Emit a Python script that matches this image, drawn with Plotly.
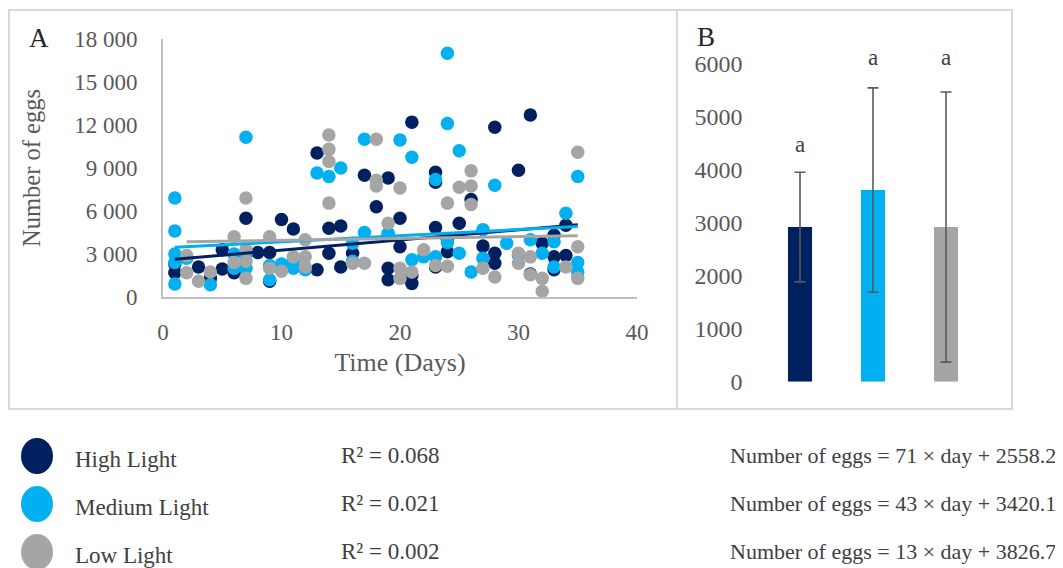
import plotly.graph_objects as go

# ---------------- data ----------------
series_names = ["High Light", "Medium Light", "Low Light"]
series_colors = ["#002060", "#00B0F0", "#A5A5A5"]

high_days = [1, 1, 3, 4, 5, 5, 6, 7, 8, 9, 9, 10, 11, 13, 13, 14, 14, 15, 15, 16, 17, 18, 19, 19, 19, 19,
             20, 20, 21, 21, 21, 23, 23, 23, 23, 24, 24, 25, 26, 27, 28, 28, 28, 30, 31, 31, 32, 33, 33, 33, 34, 34]
high_eggs = [1700, 2300, 2100, 1300, 1950, 3300, 1700, 5500, 3100, 3100, 1100, 5400, 4750, 1900, 10050, 4800,
             3050, 4950, 2100, 3050, 8500, 6300, 8300, 4300, 2000, 1200, 5500, 3500, 12200, 950, 1500, 8000,
             8700, 4850, 2100, 4000, 3150, 5150, 6800, 3550, 11850, 3050, 2350, 8850, 12700, 1600, 3750, 4300,
             2800, 1900, 5000, 2900]

medium_days = [1, 1, 1, 1, 1, 2, 4, 6, 6, 7, 7, 7, 9, 9, 10, 11, 11, 12, 13, 14, 15, 16, 16, 17, 17, 19,
               20, 21, 21, 22, 23, 23, 24, 24, 24, 25, 25, 26, 27, 27, 28, 29, 30, 31, 32, 33, 33, 34, 35, 35, 35]
medium_eggs = [6900, 4600, 3000, 2400, 900, 2700, 850, 3000, 2000, 11150, 2000, 3000, 1200, 2200, 2300, 2000,
               2500, 1900, 8650, 8400, 9000, 3750, 2500, 11000, 4500, 4450, 10950, 9750, 2600, 2800, 8200,
               2800, 17000, 12100, 3800, 10200, 3050, 1750, 4700, 2700, 7800, 3750, 2900, 4000, 3050, 3850,
               2100, 5850, 8400, 2400, 1750]

low_days = [2, 2, 3, 4, 6, 6, 7, 7, 7, 7, 9, 9, 10, 11, 12, 12, 12, 14, 14, 14, 14, 16, 17, 18, 18, 18, 19,
            20, 20, 20, 21, 22, 23, 24, 24, 25, 26, 26, 26, 27, 28, 30, 30, 31, 31, 32, 32, 34, 35, 35, 35]
low_eggs = [2900, 1700, 1100, 1750, 4200, 2400, 6900, 3300, 2500, 1300, 4200, 2000, 1800, 2800, 4000, 2800,
            2100, 11300, 10300, 9450, 6550, 2350, 2350, 11000, 8150, 7750, 5150, 7600, 2000, 1300, 1750, 3300,
            2200, 6550, 2150, 7650, 8800, 7750, 6450, 2000, 1400, 3050, 2350, 2800, 1550, 1300, 400, 2100,
            10100, 3500, 1300]

# trendline coefficients (as printed) and fitted day ranges
trend_slopes = [71, 43, 13]
trend_intercepts = [2558.2, 3420.1, 3826.7]
trend_day_ranges = [(1, 35), (1, 35), (2, 35)]
r_squared = ["0.068", "0.021", "0.002"]

# panel B: mean number of eggs and error
bar_means = [2920, 3620, 2920]
bar_errors = [1035, 1930, 2550]
bar_letters = ["a", "a", "a"]
bar_letter_pos = [4480, 6120, 6120]

a_yticks = [0, 3000, 6000, 9000, 12000, 15000, 18000]
a_yticklabels = ["0", "3 000", "6 000", "9 000", "12 000", "15 000", "18 000"]
a_xticks = [0, 10, 20, 30, 40]
b_yticks = [0, 1000, 2000, 3000, 4000, 5000, 6000]
b_ymax = 6000

# ---------------- figure ----------------
# the page adds an 8 px margin around the plot; work in window pixels
OFF = 8
W, H = 1063 - OFF, 568 - OFF
FONT = "Liberation Serif"
GREY_TXT = "#595959"
DARK_TXT = "#404040"


def px(x):
    return (x - OFF) / W


def py(y):
    return 1 - (y - OFF) / H


fig = go.Figure()

scatter_sets = [(high_days, high_eggs), (medium_days, medium_eggs), (low_days, low_eggs)]
for (d, e), name, col in zip(scatter_sets, series_names, series_colors):
    fig.add_trace(go.Scatter(x=d, y=e, mode="markers", name=name,
                             marker=dict(size=13.5, color=col, line=dict(width=0)),
                             xaxis="x", yaxis="y", showlegend=False, cliponaxis=False))

for m, b, (d0, d1), col in zip(trend_slopes, trend_intercepts, trend_day_ranges, series_colors):
    fig.add_trace(go.Scatter(x=[d0, d1], y=[m * d0 + b, m * d1 + b], mode="lines",
                             line=dict(color=col, width=3), xaxis="x", yaxis="y",
                             showlegend=False, hoverinfo="skip"))

fig.add_trace(go.Bar(x=[0, 1, 2], y=bar_means, marker=dict(color=series_colors, line=dict(width=0)),
                     width=0.33, xaxis="x2", yaxis="y2", showlegend=False,
                     error_y=dict(type="data", array=bar_errors, visible=True, color="#595959",
                                  thickness=1.6, width=5.5)))

fig.update_layout(
    width=W, height=H, margin=dict(l=0, r=0, t=0, b=0, pad=0, autoexpand=False),
    paper_bgcolor="white", plot_bgcolor="white",
    font=dict(family=FONT, color=GREY_TXT),
    xaxis=dict(domain=[px(163), px(637)], range=[0, 40], tickvals=a_xticks, automargin=False,
               showgrid=False, zeroline=False, showline=True, linecolor="#BFBFBF", linewidth=2,
               ticks="", tickfont=dict(size=23, color=GREY_TXT), ticklabelstandoff=13,
               title=dict(text="Time (Days)", font=dict(size=26, color=GREY_TXT), standoff=9),
               anchor="y"),
    yaxis=dict(domain=[py(297), py(39)], range=[0, 18000], tickvals=a_yticks, ticktext=a_yticklabels,
               automargin=False,
               showgrid=False, zeroline=False, showline=True, linecolor="#BFBFBF", linewidth=2,
               ticks="", tickfont=dict(size=23, color=GREY_TXT), ticklabelstandoff=19,
               title=dict(text="Number of eggs", font=dict(size=24.5, color=GREY_TXT), standoff=27),
               anchor="x"),
    xaxis2=dict(domain=[px(763.5), px(982.5)], range=[-0.5, 2.5], showticklabels=False, automargin=False,
                showgrid=False, zeroline=False, showline=False, ticks="", anchor="y2"),
    yaxis2=dict(domain=[py(381.7), py(64)], range=[0, b_ymax], tickvals=b_yticks, automargin=False,
                showgrid=False, zeroline=False, showline=False, ticks="",
                tickfont=dict(size=24, color=GREY_TXT), ticklabelstandoff=20, anchor="x2"),
)

# panel borders
fig.add_shape(type="rect", xref="paper", yref="paper", x0=px(9), x1=px(677), y0=py(409), y1=py(10),
              line=dict(color="#D9D9D9", width=2))
fig.add_shape(type="rect", xref="paper", yref="paper", x0=px(677), x1=px(1012), y0=py(409), y1=py(10),
              line=dict(color="#D9D9D9", width=2))

# panel letters
fig.add_annotation(text="A", xref="paper", yref="paper", x=px(39), y=py(38), showarrow=False,
                   font=dict(size=27, color="#262626", family=FONT), xanchor="center", yanchor="middle")
fig.add_annotation(text="B", xref="paper", yref="paper", x=px(706), y=py(37), showarrow=False,
                   font=dict(size=27, color="#262626", family=FONT), xanchor="center", yanchor="middle")

# significance letters (y in fraction of the panel-B axis range)
for i, (lt, yp) in enumerate(zip(bar_letters, bar_letter_pos)):
    fig.add_annotation(text=lt, x=i, y=yp / b_ymax, xref="x2", yref="y2 domain", showarrow=False,
                       font=dict(size=23, color=DARK_TXT, family=FONT), yanchor="middle")

# legend / regression block
row_y = [456, 504, 552]
for name, col, r2, m, b, y in zip(series_names, series_colors, r_squared, trend_slopes, trend_intercepts, row_y):
    fig.add_shape(type="circle", xref="paper", yref="paper", x0=px(21), x1=px(53),
                  y0=py(y + 18), y1=py(y - 18), fillcolor=col, line=dict(width=0))
    fig.add_annotation(text=name, xref="paper", yref="paper", x=px(73), y=py(y + 3), showarrow=False,
                       xanchor="left", yanchor="middle", font=dict(size=23, color=DARK_TXT, family=FONT))
    fig.add_annotation(text=f"R² = {r2}", xref="paper", yref="paper", x=px(339), y=py(y - 1),
                       showarrow=False, xanchor="left", yanchor="middle",
                       font=dict(size=23, color=DARK_TXT, family=FONT))
    fig.add_annotation(text=f"Number of eggs = {m} × day + {b}", xref="paper", yref="paper", x=px(1058),
                       y=py(y - 1), showarrow=False, xanchor="right", yanchor="middle",
                       font=dict(size=22, color=DARK_TXT, family=FONT))

fig.write_html("out.html")
